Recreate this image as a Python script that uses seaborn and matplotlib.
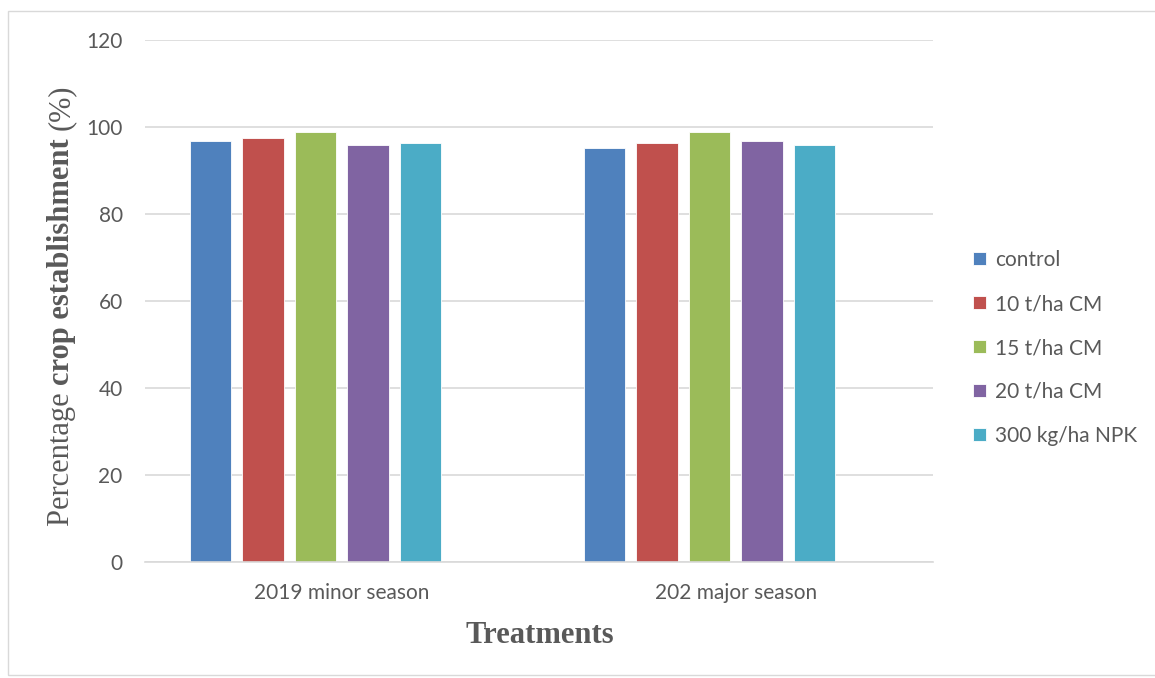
import matplotlib
matplotlib.use("Agg")
import matplotlib.pyplot as plt
from matplotlib.patches import Rectangle
import seaborn as sns
import pandas as pd
import numpy as np

seasons = ["2019 minor season", "202 major season"]
treatments = ["control", "10 t/ha CM", "15 t/ha CM", "20 t/ha CM", "300 kg/ha NPK"]
minor_2019 = [96.8, 97.4, 98.8, 95.9, 96.3]
major_202 = [95.1, 96.3, 98.8, 96.8, 95.9]
palette = ["#4F81BD", "#C0504D", "#9BBB59", "#8064A2", "#4BACC6"]

# An empty sixth series keeps its slot in each cluster, as in the source workbook
spare = " "
hue_levels = treatments + [spare]

df = pd.DataFrame({
    "Season": [seasons[0]] * 6 + [seasons[1]] * 6,
    "Treatment": hue_levels * 2,
    "Value": minor_2019 + [np.nan] + major_202 + [np.nan],
})

sns.set_theme(style="white")
plt.rcParams["font.family"] = ["Lato", "DejaVu Sans"]

fig = plt.figure(figsize=(11.55, 6.78), dpi=100)
ax = fig.add_axes([0.1255, 0.171, 0.682, 0.770])

sns.barplot(data=df, x="Season", y="Value", hue="Treatment", hue_order=hue_levels,
            palette=palette + ["#ffffff"], width=0.80, gap=0.21, saturation=1.0,
            edgecolor="white", linewidth=0.6, ax=ax)

ax.set_ylim(0, 120)
ax.set_xlim(-0.5, 1.5)
ax.set_yticks(range(0, 121, 20))
ax.yaxis.grid(True, color="#d9d9d9", linewidth=1.2)
ax.set_axisbelow(True)
for side in ["top", "right", "left"]:
    ax.spines[side].set_visible(False)
ax.spines["bottom"].set_color("#d9d9d9")
ax.spines["bottom"].set_linewidth(1.2)

ax.tick_params(axis="y", length=0, pad=16, labelsize=15, labelcolor="#595959")
ax.tick_params(axis="x", which="major", length=0, pad=15, labelsize=15, labelcolor="#595959")
ax.set_xticks([-0.5, 0.5, 1.5], minor=True)
ax.tick_params(axis="x", which="minor", length=8, color="#d9d9d9", width=1.2)

ax.set_xlabel("")
ax.set_ylabel("")

# Axis titles
fig.text(0.467, 0.063, "Treatments", ha="center", va="center",
         fontfamily="Liberation Serif", fontweight="bold", fontsize=22, color="#595959")

# Y title: regular / bold / regular pieces set end to end along the axis
fig.canvas.draw()
renderer = fig.canvas.get_renderer()
pieces = [("Percentage ", "normal"), ("crop establishment ", "bold"), ("(%)", "normal")]
ylab_x = 0.053
y_px = 678 - 526
for txt, weight in pieces:
    t = fig.text(ylab_x, y_px / 678, txt, rotation=90, ha="left", va="center",
                 fontfamily="Liberation Serif", fontweight=weight, fontsize=22,
                 color="#595959", rotation_mode="anchor")
    bb = t.get_window_extent(renderer)
    y_px += bb.height

# Legend (only the five treatments)
handles, labels = ax.get_legend_handles_labels()
leg = ax.legend(handles[:5], labels[:5], loc="center left", bbox_to_anchor=(1.028, 0.41),
                frameon=False, fontsize=15, labelcolor="#595959",
                handlelength=0.6, handleheight=0.6, handletextpad=0.45,
                labelspacing=1.15)

# Outer chart frame
fig.patches.append(Rectangle((0.007, 0.004), 1.2, 0.98, transform=fig.transFigure,
                             fill=False, edgecolor="#d9d9d9", linewidth=1.0))

fig.savefig("out.png", dpi=100)
